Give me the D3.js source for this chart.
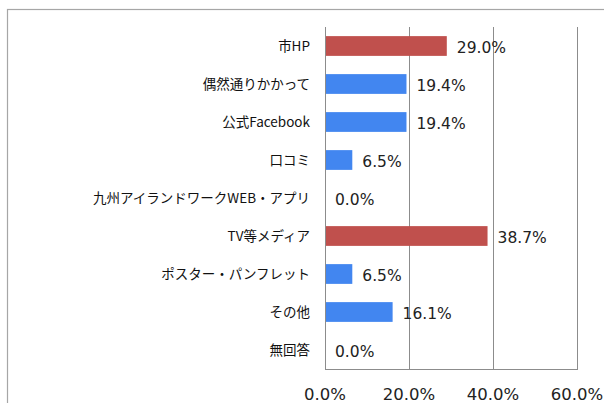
<!DOCTYPE html>
<html>
<head>
<meta charset="utf-8">
<title>認知経路</title>
<script src="https://cdn.jsdelivr.net/npm/d3@7"></script>
<style>
  body { margin: 0; background: #fff; }
</style>
</head>
<body>
<div id="chart"></div>
<script>
(function(){
  "use strict";

  // data
  var categories = ["市HP", "偶然通りかかって", "公式Facebook", "口コミ",
    "九州アイランドワークWEB・アプリ", "TV等メディア", "ポスター・パンフレット", "その他", "無回答"];
  var values = [29.0, 19.4, 19.4, 6.5, 0.0, 38.7, 6.5, 16.1, 0.0];
  var highlighted = ["市HP", "TV等メディア"];
  var ticks = [0, 20, 40, 60];

  var W = 604, H = 403;
  var plot = { left: 325, right: 577, top: 27, bottom: 369 };

  var svg = d3.select("#chart").append("svg")
    .attr("width", W)
    .attr("height", H);

  svg.append("rect")
    .attr("width", W).attr("height", H)
    .attr("fill", "#fff");

  // outer frame (cut off at right and bottom)
  svg.append("rect")
    .attr("x", 7.5).attr("y", 9.5)
    .attr("width", 700).attr("height", 500)
    .attr("fill", "none")
    .attr("stroke", "#a6a6a6")
    .attr("stroke-width", 1.2);

  var x = d3.scaleLinear()
    .domain([0, 60])
    .range([plot.left, plot.right]);

  var y = d3.scaleBand()
    .domain(categories)
    .range([plot.top, plot.bottom])
    .paddingInner(0.48)
    .paddingOuter(0.24);

  // gridlines
  svg.append("g")
    .selectAll("line")
    .data(ticks)
    .enter().append("line")
      .attr("x1", function(d){ return Math.round(x(d)) + 0.5; })
      .attr("x2", function(d){ return Math.round(x(d)) + 0.5; })
      .attr("y1", plot.top)
      .attr("y2", plot.bottom)
      .attr("stroke", "#8c8c8c")
      .attr("stroke-width", 1);

  // bottom edge of plot
  svg.append("line")
    .attr("x1", x(0)).attr("x2", x(60) + 1)
    .attr("y1", plot.bottom + 0.5).attr("y2", plot.bottom + 0.5)
    .attr("stroke", "#8c8c8c");

  // bars
  svg.append("g")
    .selectAll("rect")
    .data(values)
    .enter().append("rect")
      .attr("x", x(0) + 1)
      .attr("y", function(d, i){ return y(categories[i]); })
      .attr("width", function(d){ return Math.max(0, x(d) - x(0) - 1); })
      .attr("height", y.bandwidth())
      .attr("fill", function(d, i){
        return highlighted.indexOf(categories[i]) >= 0 ? "#c0504d" : "#4286f0";
      });

  // value labels
  svg.append("g")
    .selectAll("text")
    .data(values)
    .enter().append("text")
      .attr("x", function(d){ return x(d) + 10; })
      .attr("y", function(d, i){ return y(categories[i]) + y.bandwidth() / 2 + 1; })
      .attr("dy", "0.36em")
      .style("font-family", "'DejaVu Sans', Verdana, sans-serif")
      .style("font-size", "15.5px")
      .attr("fill", "#222")
      .text(function(d){ return d.toFixed(1) + "%"; });

  // category labels
  svg.append("g")
    .selectAll("text")
    .data(categories)
    .enter().append("text")
      .attr("x", 310)
      .attr("y", function(d){ return y(d) + y.bandwidth() / 2; })
      .attr("dy", "0.36em")
      .attr("text-anchor", "end")
      .style("font-family", "'Noto Sans CJK JP', sans-serif")
      .style("font-size", "13.5px")
      .attr("fill", "#111")
      .text(function(d){ return d; });

  // x tick labels
  svg.append("g")
    .selectAll("text")
    .data(ticks)
    .enter().append("text")
      .attr("x", function(d){ return x(d); })
      .attr("y", 400)
      .attr("text-anchor", "middle")
      .style("font-family", "'DejaVu Sans', Verdana, sans-serif")
      .style("font-size", "16.5px")
      .attr("fill", "#222")
      .text(function(d){ return d.toFixed(1) + "%"; });
})();
</script>
</body>
</html>
